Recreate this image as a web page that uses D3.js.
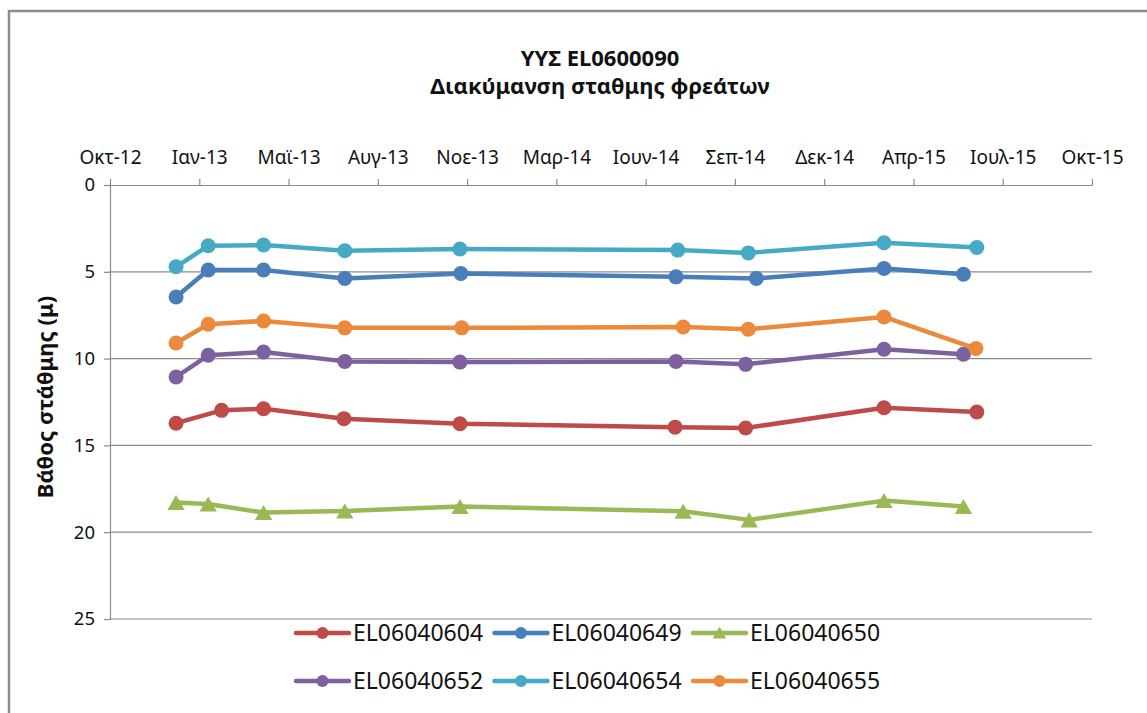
<!DOCTYPE html>
<html>
<head>
<meta charset="utf-8">
<script src="https://cdn.jsdelivr.net/npm/d3@7/dist/d3.min.js"></script>
<style>
  html, body { margin: 0; padding: 0; background: #fff; }
  svg { display: block; font-family: "Noto Sans", "Open Sans", sans-serif; }
</style>
</head>
<body>
<svg id="chart" width="1147" height="713"></svg>
<script>
// Chart text
const titleLines = ["ΥΥΣ EL0600090", "Διακύμανση σταθμης φρεάτων"];
const yAxisTitle = "Βάθος στάθμης (μ)";

// Date axis: 100-day major unit starting 20 Oct 2012
const axisStart = "2012-10-20";
const axisStepDays = 100;
const axisSteps = 11;
const greekShortMonths = ["Ιαν", "Φεβ", "Μαρ", "Απρ", "Μαϊ", "Ιουν", "Ιουλ", "Αυγ", "Σεπ", "Οκτ", "Νοε", "Δεκ"];

// Depth axis
const depthTicks = [0, 5, 10, 15, 20, 25];

// Wells
const wellNames = ["EL06040604", "EL06040649", "EL06040650", "EL06040652", "EL06040654", "EL06040655"];

// Measurement dates and depth to water level (m)
const dates604 = ["2013-01-02", "2013-02-22", "2013-04-10", "2013-07-09", "2013-11-16", "2014-07-15", "2014-10-02", "2015-03-06", "2015-06-18"];
const depth604 = [13.72, 12.98, 12.89, 13.46, 13.75, 13.95, 14.00, 12.83, 13.08];

const dates649 = ["2013-01-02", "2013-02-07", "2013-04-10", "2013-07-10", "2013-11-17", "2014-07-16", "2014-10-14", "2015-03-06", "2015-06-03"];
const depth649 = [6.45, 4.90, 4.90, 5.38, 5.10, 5.29, 5.38, 4.81, 5.14];

const dates650 = ["2013-01-02", "2013-02-07", "2013-04-10", "2013-07-10", "2013-11-16", "2014-07-24", "2014-10-06", "2015-03-06", "2015-06-03"];
const depth650 = [18.29, 18.38, 18.87, 18.78, 18.52, 18.79, 19.29, 18.18, 18.52];

const dates652 = ["2013-01-02", "2013-02-07", "2013-04-10", "2013-07-10", "2013-11-16", "2014-07-16", "2014-10-02", "2015-03-06", "2015-06-03"];
const depth652 = [11.06, 9.81, 9.62, 10.16, 10.20, 10.16, 10.33, 9.46, 9.75];

const dates654 = ["2013-01-02", "2013-02-07", "2013-04-10", "2013-07-10", "2013-11-16", "2014-07-18", "2014-10-05", "2015-03-06", "2015-06-18"];
const depth654 = [4.71, 3.50, 3.46, 3.79, 3.69, 3.75, 3.91, 3.33, 3.60];

const dates655 = ["2013-01-02", "2013-02-07", "2013-04-10", "2013-07-10", "2013-11-18", "2014-07-24", "2014-10-05", "2015-03-06", "2015-06-17"];
const depth655 = [9.10, 8.02, 7.83, 8.23, 8.23, 8.18, 8.31, 7.60, 9.42];

const wellDates = [dates604, dates649, dates650, dates652, dates654, dates655];
const wellDepths = [depth604, depth649, depth650, depth652, depth654, depth655];

// Styling
const wellColors = ["#BE4B48", "#4A7EBB", "#98B954", "#7D60A0", "#46AAC5", "#EB8A3C"];
const wellMarkers = ["circle", "circle", "triangle", "circle", "circle", "circle"];
const gridColor = "#8a8a8a";
const textColor = "#111";

const svg = d3.select("#chart");
const parse = d3.utcParse("%Y-%m-%d");

const greek = d3.timeFormatLocale({
  dateTime: "%a %e %b %Y %X", date: "%d/%m/%Y", time: "%H:%M:%S",
  periods: ["πμ", "μμ"],
  days: ["Κυριακή", "Δευτέρα", "Τρίτη", "Τετάρτη", "Πέμπτη", "Παρασκευή", "Σάββατο"],
  shortDays: ["Κυρ", "Δευ", "Τρι", "Τετ", "Πεμ", "Παρ", "Σαβ"],
  months: ["Ιανουάριος", "Φεβρουάριος", "Μάρτιος", "Απρίλιος", "Μάιος", "Ιούνιος", "Ιούλιος", "Αύγουστος", "Σεπτέμβριος", "Οκτώβριος", "Νοέμβριος", "Δεκέμβριος"],
  shortMonths: greekShortMonths
});
const fmtMonth = greek.utcFormat("%b-%y");

const plot = { left: 110, right: 1092, top: 185, bottom: 619 };

const t0 = parse(axisStart);
const tickDates = d3.range(axisSteps + 1).map(i => d3.utcDay.offset(t0, i * axisStepDays));

const x = d3.scaleUtc()
  .domain([t0, tickDates[tickDates.length - 1]])
  .range([plot.left, plot.right]);

const y = d3.scaleLinear()
  .domain([0, 25])
  .range([plot.top, plot.bottom]);

// Outer chart frame
svg.append("rect")
  .attr("x", 9).attr("y", 11)
  .attr("width", 1160).attr("height", 720)
  .attr("fill", "#fff")
  .attr("stroke", "#8c8c8c")
  .attr("stroke-width", 2.5);

// Title
const title = svg.append("text")
  .attr("text-anchor", "middle")
  .attr("font-weight", "bold")
  .attr("font-size", 22)
  .attr("fill", textColor);
titleLines.forEach((line, i) => {
  title.append("tspan").attr("x", 600).attr("y", 66 + i * 28).text(line);
});

// Horizontal gridlines
svg.append("g")
  .selectAll("line")
  .data(depthTicks.filter(d => d > 0))
  .join("line")
  .attr("x1", plot.left).attr("x2", plot.right)
  .attr("y1", d => y(d)).attr("y2", d => y(d))
  .attr("stroke", gridColor).attr("stroke-width", 1.2);

// Depth axis (left)
const yAxis = svg.append("g")
  .attr("transform", `translate(${plot.left},0)`)
  .call(d3.axisLeft(y).tickValues(depthTicks).tickSize(6).tickPadding(9).tickFormat(d3.format("d")));
yAxis.select(".domain").attr("stroke", gridColor).attr("stroke-width", 1.2);
yAxis.selectAll(".tick line").attr("stroke", gridColor).attr("stroke-width", 1.2);
yAxis.selectAll("text")
  .attr("font-size", 18.5)
  .attr("font-family", "\"Noto Sans\", sans-serif")
  .attr("fill", textColor);

// Date axis (top)
const xAxis = svg.append("g")
  .attr("transform", `translate(0,${plot.top})`)
  .call(d3.axisTop(x).tickValues(tickDates).tickSize(6).tickPadding(15).tickSizeOuter(0).tickFormat(fmtMonth));
xAxis.select(".domain").attr("stroke", gridColor).attr("stroke-width", 1.2);
xAxis.selectAll(".tick line").attr("stroke", gridColor).attr("stroke-width", 1.2);
xAxis.selectAll("text")
  .attr("font-size", 19)
  .attr("font-family", "\"Noto Sans\", sans-serif")
  .attr("fill", textColor);

// Axis title
svg.append("text")
  .attr("transform", "translate(53,397) rotate(-90)")
  .attr("text-anchor", "middle")
  .attr("font-weight", "bold")
  .attr("font-size", 22)
  .attr("fill", textColor)
  .text(yAxisTitle);

// Series
const line = d3.line()
  .x(d => x(d.date))
  .y(d => y(d.depth));

const triangle = d3.symbol().type(d3.symbolTriangle).size(130);
const triangleSmall = d3.symbol().type(d3.symbolTriangle).size(80);

const series = wellNames.map((name, i) => ({
  name,
  color: wellColors[i],
  marker: wellMarkers[i],
  points: wellDates[i].map((d, j) => ({ date: parse(d), depth: wellDepths[i][j] }))
}));

const gSeries = svg.append("g");
series.forEach(s => {
  const g = gSeries.append("g");
  g.append("path")
    .datum(s.points)
    .attr("d", line)
    .attr("fill", "none")
    .attr("stroke", s.color)
    .attr("stroke-width", 4.5)
    .attr("stroke-linejoin", "round")
    .attr("stroke-linecap", "round");
  if (s.marker === "triangle") {
    g.selectAll("path.mk")
      .data(s.points)
      .join("path")
      .attr("class", "mk")
      .attr("d", triangle)
      .attr("transform", d => `translate(${x(d.date)},${y(d.depth) + 2.5})`)
      .attr("fill", s.color);
  } else {
    g.selectAll("circle")
      .data(s.points)
      .join("circle")
      .attr("cx", d => x(d.date))
      .attr("cy", d => y(d.depth))
      .attr("r", 7.5)
      .attr("fill", s.color);
  }
});

// Legend: three columns, two rows
const legend = svg.append("g");
series.forEach((s, i) => {
  const col = i % 3, row = Math.floor(i / 3);
  const lx = 296 + col * 198.5;
  const ly = 633 + row * 48;
  const g = legend.append("g").attr("transform", `translate(${lx},${ly})`);
  g.append("line")
    .attr("x1", 0).attr("x2", 53).attr("y1", 0).attr("y2", 0)
    .attr("stroke", s.color).attr("stroke-width", 4.5).attr("stroke-linecap", "round");
  if (s.marker === "triangle") {
    g.append("path").attr("d", triangleSmall).attr("transform", "translate(26.5,1.5)").attr("fill", s.color);
  } else {
    g.append("circle").attr("cx", 26.5).attr("cy", 0).attr("r", 6).attr("fill", s.color);
  }
  g.append("text")
    .attr("x", 57).attr("y", 0).attr("dy", "0.36em")
    .attr("font-size", 23)
    .attr("fill", textColor)
    .text(s.name);
});
</script>
</body>
</html>
